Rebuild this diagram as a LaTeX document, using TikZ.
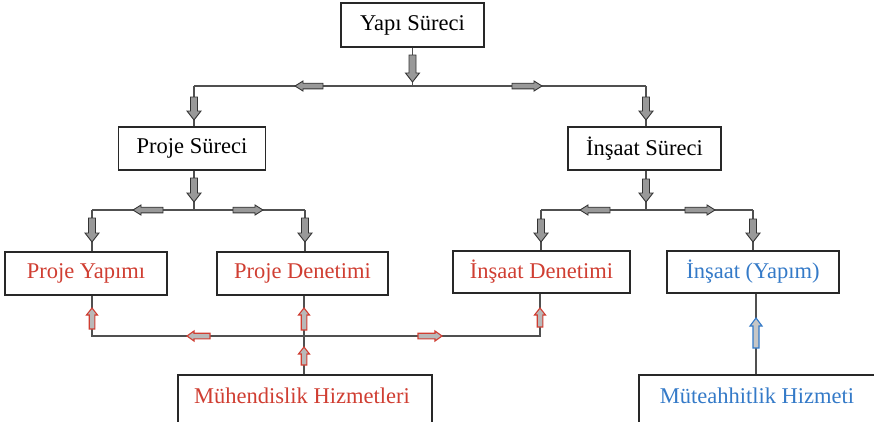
\documentclass[tikz,border=0pt]{standalone}
\usepackage{fontspec}
\setmainfont{Liberation Serif}
\definecolor{tred}{RGB}{208,62,50}
\definecolor{tblue}{RGB}{52,122,200}
\definecolor{boxline}{RGB}{40,40,40}
\definecolor{connc}{RGB}{80,80,80}
% down / up arrows: style, x, y tail, y tip, shaft half, head half, head length
\newcommand\dA[7]{\filldraw[#1] ({#2-#5},#3) -- ({#2+#5},#3) -- ({#2+#5},{#4-#7}) -- ({#2+#6},{#4-#7}) -- (#2,#4) -- ({#2-#6},{#4-#7}) -- ({#2-#5},{#4-#7}) -- cycle;}
\newcommand\uA[7]{\filldraw[#1] ({#2-#5},#3) -- ({#2+#5},#3) -- ({#2+#5},{#4+#7}) -- ({#2+#6},{#4+#7}) -- (#2,#4) -- ({#2-#6},{#4+#7}) -- ({#2-#5},{#4+#7}) -- cycle;}
% left / right arrows: style, y, x tail, x tip, shaft half, head half, head length
\newcommand\lA[7]{\filldraw[#1] (#3,{#2-#5}) -- ({#4+#7},{#2-#5}) -- ({#4+#7},{#2-#6}) -- (#4,#2) -- ({#4+#7},{#2+#6}) -- ({#4+#7},{#2+#5}) -- (#3,{#2+#5}) -- cycle;}
\newcommand\rA[7]{\filldraw[#1] (#3,{#2-#5}) -- ({#4-#7},{#2-#5}) -- ({#4-#7},{#2-#6}) -- (#4,#2) -- ({#4-#7},{#2+#6}) -- ({#4-#7},{#2+#5}) -- (#3,{#2+#5}) -- cycle;}
\begin{document}
\begin{tikzpicture}[x=1pt,y=-1pt,
 box/.style={draw=boxline,line width=1.9pt,fill=white,inner sep=0pt,font=\fontsize{22.5}{26}\selectfont},
 txt/.style={inner sep=0pt,font=\fontsize{22.5}{26}\selectfont},
 conn/.style={draw=connc,line width=1.2pt},
 garrow/.style={fill=gray!80,draw=black!80,line width=0.9pt},
 rarrow/.style={fill=gray!55,draw=tred,line width=1.1pt},
 barrow/.style={fill=gray!45,draw=tblue,line width=1.1pt}]
\clip (0,0) rectangle (874,421);
\fill[white] (0,0) rectangle (874,421);

% boxes
\node[box,minimum width=143pt,minimum height=44pt] (yapi) at (412.5,25) {Yapı Süreci};
\node[box,minimum width=147pt,minimum height=43pt] (proje) at (192,148.5) {Proje Süreci};
\node[box,minimum width=153pt,minimum height=43pt] (insaat) at (644.5,148.5) {İnşaat Süreci};
\node[box,minimum width=162pt,minimum height=43pt,text=tred] (pyap) at (86,273.5) {Proje Yapımı};
\node[box,minimum width=171pt,minimum height=43pt,text=tred] (pden) at (302.5,273.5) {Proje Denetimi};
\node[box,minimum width=177pt,minimum height=42pt,text=tred] (iden) at (541.5,272) {İnşaat Denetimi};
\node[box,minimum width=172pt,minimum height=42pt,text=tblue] (iyap) at (753,272) {İnşaat (Yapım)};
\node[box,minimum width=254pt,minimum height=56pt,anchor=north] (muh) at (305,374) {};
\node[txt,text=tred] (muhT) at (302,396) {Mühendislik Hizmetleri};
\node[box,minimum width=236pt,minimum height=56pt,anchor=north] (mut) at (757,374) {};
\node[txt,text=tblue] (mutT) at (757,396) {Müteahhitlik Hizmeti};

% junction coordinates
\coordinate (j0) at (412.5,86);
\coordinate (tl) at (194,86);
\coordinate (tr) at (646,86);
\coordinate (pj) at (194,210);
\coordinate (pl) at (92,210);
\coordinate (pr) at (305,210);
\coordinate (ij) at (646,210);
\coordinate (il) at (541,210);
\coordinate (ir) at (753,210);
\coordinate (bl) at (92,336);
\coordinate (bm) at (304,336);
\coordinate (br) at (540,336);
\coordinate (bs) at (756,340);

% connectors
\draw[conn] (yapi.south) -- (j0);
\draw[conn] (tl) -- (tr);
\draw[conn] (tl) -- (tl |- proje.north);
\draw[conn] (tr) -- (tr |- insaat.north);
\draw[conn] (proje.south -| pj) -- (pj);
\draw[conn] (pl) -- (pr);
\draw[conn] (pl) -- (pyap.north -| pl);
\draw[conn] (pr) -- (pden.north -| pr);
\draw[conn] (insaat.south -| ij) -- (ij);
\draw[conn] (il) -- (ir);
\draw[conn] (il) -- (iden.north -| il);
\draw[conn] (ir) -- (iyap.north -| ir);
\draw[conn] (pyap.south -| bl) -- (bl) -- (br) -- (iden.south -| br);
\draw[conn] (pden.south -| bm) -- (muh.north -| bm);
\draw[conn] (iyap.south -| bs) -- (mut.north -| bs);

% block arrows (grey)
\dA{garrow}{412.5}{55}{82}{3.5}{7}{9}
\lA{garrow}{86}{323}{295}{2.8}{5}{8}
\rA{garrow}{86}{512}{542}{2.8}{5}{8}
\dA{garrow}{194}{97}{120}{3.5}{7}{9}
\dA{garrow}{646}{97}{120}{3.5}{7}{9}
\dA{garrow}{194}{178}{202}{3.5}{7}{9}
\lA{garrow}{210}{163}{133}{2.8}{5}{8}
\rA{garrow}{210}{233}{263}{2.8}{5}{8}
\dA{garrow}{92}{218}{242}{3.5}{7}{9}
\dA{garrow}{305}{218}{242}{3.5}{7}{9}
\dA{garrow}{646}{179}{202}{3.5}{7}{9}
\lA{garrow}{210}{610}{580}{2.8}{5}{8}
\rA{garrow}{210}{685}{715}{2.8}{5}{8}
\dA{garrow}{541}{219}{242}{3.5}{7}{9}
\dA{garrow}{753}{219}{242}{3.5}{7}{9}
% red
\uA{rarrow}{92}{329}{308}{2.8}{5.5}{7}
\uA{rarrow}{304}{330}{308}{2.8}{5.5}{7}
\uA{rarrow}{304}{365}{347}{2.8}{5.5}{7}
\uA{rarrow}{540}{327}{308}{2.8}{5.5}{7}
\lA{rarrow}{336}{210}{187}{2.8}{5}{7}
\rA{rarrow}{336}{418}{442}{2.8}{5}{7}
% blue
\uA{barrow}{756}{348}{318}{3}{6}{8}
\end{tikzpicture}
\end{document}
